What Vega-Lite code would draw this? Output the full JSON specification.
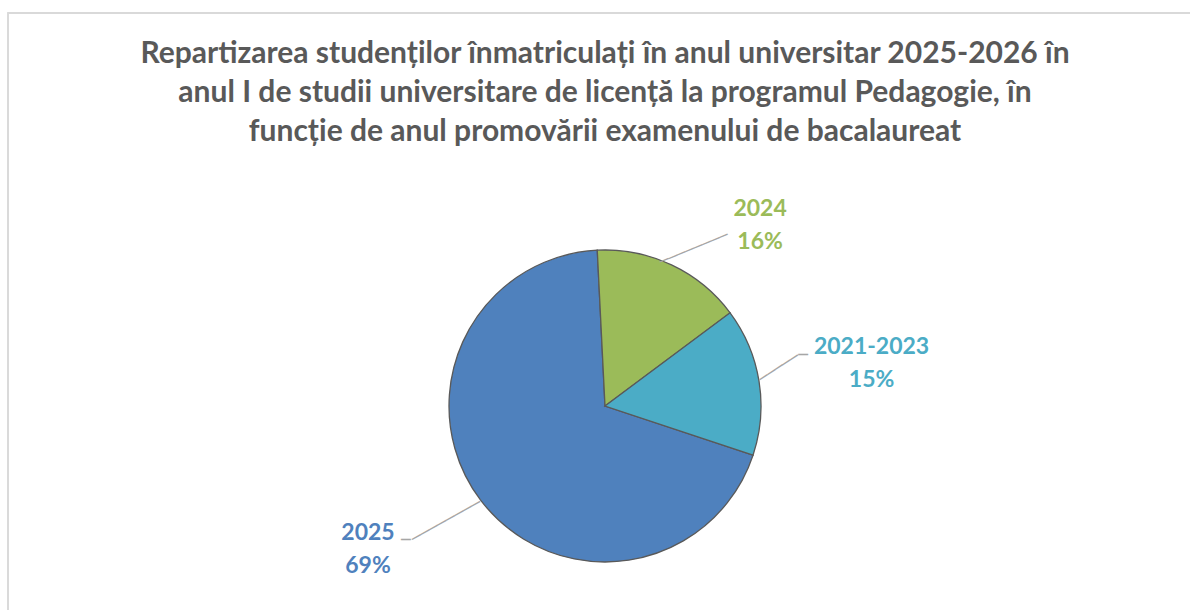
{
  "$schema": "https://vega.github.io/schema/vega-lite/v6.json",
  "autosize": "none",
  "padding": {"left": 8, "top": 13, "right": -12, "bottom": -189},
  "width": 1194,
  "height": 786,
  "background": "white",
  "title": {
    "text": [
      "Repartizarea studenților înmatriculați în anul universitar 2025-2026 în",
      "anul I de studii universitare de licență la programul Pedagogie, în",
      "funcție de anul promovării examenului de bacalaureat"
    ],
    "font": "Lato",
    "fontSize": 30,
    "fontWeight": "bold",
    "color": "#595959",
    "lineHeight": 39,
    "anchor": "middle",
    "frame": "group",
    "offset": 0,
    "dy": 135
  },
  "data": {
    "values": [
      {"year": "2025", "share": 0.691},
      {"year": "2024", "share": 0.156},
      {"year": "2021-2023", "share": 0.153}
    ]
  },
  "layer": [
    {"mark": {"type": "rect", "fill": "transparent", "stroke": "#d9d9d9", "strokeWidth": 1.3}, "encoding": {}},
    {
      "encoding": {
        "theta": {"field": "share", "type": "quantitative", "stack": true, "scale": {"range": [1.892, 8.175]}},
        "order": {"field": "year", "sort": "descending"},
        "color": {
          "field": "year", "type": "nominal", "legend": null,
          "scale": {"domain": ["2025", "2024", "2021-2023"], "range": ["#4F81BD", "#9BBB59", "#4BACC6"]}
        }
      },
      "layer": [
        {"mark": {"type": "arc", "outerRadius": 156, "stroke": "#595959", "strokeWidth": 1.3}},
        {
          "mark": {"type": "text", "text": "────────", "font": "DejaVu Sans", "fontSize": 15.2, "align": "center", "baseline": "middle", "radius": 181, "thetaOffset": 0.0726, "angle": -22.4},
          "encoding": {"color": {"value": "#a6a6a6"}, "opacity": {"condition": {"test": "datum.year === '2024'", "value": 1}, "value": 0}}
        },
        {
          "mark": {"type": "text", "text": "─────", "font": "DejaVu Sans", "fontSize": 15.1, "align": "center", "baseline": "middle", "radius": 178, "thetaOffset": -0.0587, "angle": -33.3},
          "encoding": {"color": {"value": "#a6a6a6"}, "opacity": {"condition": {"test": "datum.year === '2021-2023'", "value": 1}, "value": 0}}
        },
        {
          "mark": {"type": "text", "text": "─", "font": "DejaVu Sans", "fontSize": 16, "align": "center", "baseline": "middle", "radius": 204.5, "thetaOffset": -0.0925, "angle": 0},
          "encoding": {"color": {"value": "#a6a6a6"}, "opacity": {"condition": {"test": "datum.year === '2021-2023'", "value": 1}, "value": 0}}
        },
        {
          "mark": {"type": "text", "text": "────────", "font": "DejaVu Sans", "fontSize": 16.2, "align": "center", "baseline": "middle", "radius": 196, "thetaOffset": 0.023, "angle": -29.3},
          "encoding": {"color": {"value": "#a6a6a6"}, "opacity": {"condition": {"test": "datum.year === '2025'", "value": 1}, "value": 0}}
        },
        {
          "mark": {"type": "text", "text": "─", "font": "DejaVu Sans", "fontSize": 16, "align": "center", "baseline": "middle", "radius": 240, "thetaOffset": 0.0569, "angle": 0},
          "encoding": {"color": {"value": "#a6a6a6"}, "opacity": {"condition": {"test": "datum.year === '2025'", "value": 1}, "value": 0}}
        },
        {
          "mark": {"type": "text", "radius": 270, "font": "Lato", "fontWeight": "bold", "fontSize": 23, "dy": -16, "dx": 0},
          "encoding": {
            "text": {"field": "year"},
            "opacity": {"condition": {"test": "datum.year === '2021-2023'", "value": 1}, "value": 0}
          }
        },
        {
          "mark": {"type": "text", "radius": 270, "font": "Lato", "fontWeight": "bold", "fontSize": 23, "dy": 17, "dx": 0},
          "encoding": {
            "text": {"field": "share", "format": ".0%"},
            "opacity": {"condition": {"test": "datum.year === '2021-2023'", "value": 1}, "value": 0}
          }
        },
        {
          "mark": {"type": "text", "radius": 270, "font": "Lato", "fontWeight": "bold", "fontSize": 23, "dy": 47, "dx": 40},
          "encoding": {
            "text": {"field": "year"},
            "opacity": {"condition": {"test": "datum.year === '2024'", "value": 1}, "value": 0}
          }
        },
        {
          "mark": {"type": "text", "radius": 270, "font": "Lato", "fontWeight": "bold", "fontSize": 23, "dy": 80, "dx": 40},
          "encoding": {
            "text": {"field": "share", "format": ".0%"},
            "opacity": {"condition": {"test": "datum.year === '2024'", "value": 1}, "value": 0}
          }
        },
        {
          "mark": {"type": "text", "radius": 270, "font": "Lato", "fontWeight": "bold", "fontSize": 23, "dy": -36, "dx": -22},
          "encoding": {
            "text": {"field": "year"},
            "opacity": {"condition": {"test": "datum.year === '2025'", "value": 1}, "value": 0}
          }
        },
        {
          "mark": {"type": "text", "radius": 270, "font": "Lato", "fontWeight": "bold", "fontSize": 23, "dy": -3, "dx": -22},
          "encoding": {
            "text": {"field": "share", "format": ".0%"},
            "opacity": {"condition": {"test": "datum.year === '2025'", "value": 1}, "value": 0}
          }
        }
      ]
    }
  ]
}
